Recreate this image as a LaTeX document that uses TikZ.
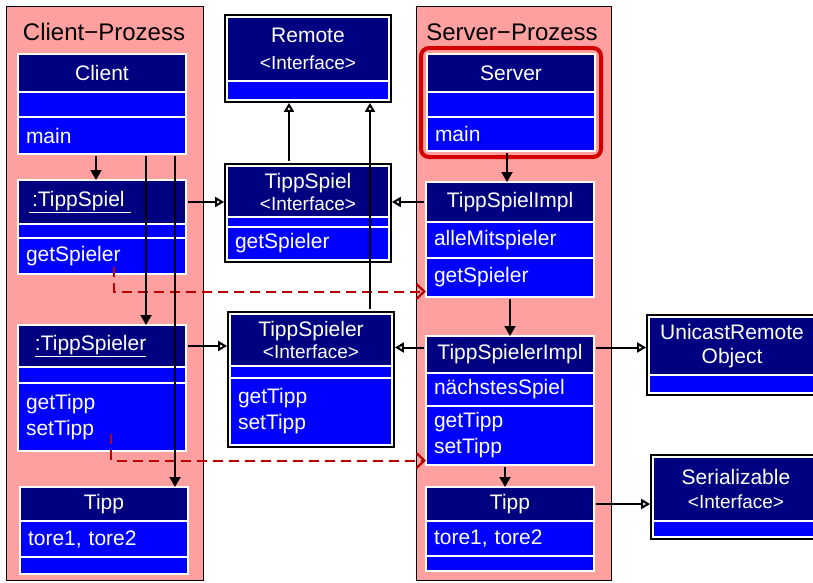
\documentclass[tikz,border=0pt]{standalone}
\usepackage{fontspec}
\setmainfont{Liberation Sans}
\usetikzlibrary{arrows.meta,positioning,fit,backgrounds}
\definecolor{HD}{RGB}{0,0,128}
\definecolor{BD}{RGB}{0,0,255}
\definecolor{PR}{RGB}{255,160,160}
\definecolor{SV}{RGB}{210,0,0}
\definecolor{RM}{RGB}{190,0,0}
\newcommand{\iface}[1]{#1\\[-4pt]{\fontsize{19}{21}\selectfont<Interface>}}
\tikzset{
  % one compartment of a class box
  cls/.style={
    draw=white, line width=1.2pt, outer sep=0pt,
    inner xsep=8pt, inner ysep=0pt, text=white,
    text width=152pt, font=\fontsize{21}{26}\selectfont
  },
  chead/.style={cls, fill=HD, align=center},
  cpart/.style={cls, fill=BD, align=left},
  % interfaces sit inside a black frame
  narrow/.style={text width=146pt},
  iframe/.style={draw=black, fill=HD, line width=2.6pt, inner sep=1.6pt},
  % process lanes
  lane/.style={
    draw=black, fill=PR, line width=1.3pt, anchor=north west,
    minimum width=197pt, minimum height=574pt
  },
  lanetitle/.style={font=\fontsize{24}{28}\selectfont, text=black},
  % connectors
  call/.style={-{Triangle[length=10pt,width=11pt]}, line width=2pt, shorten <=2pt},
  impl/.style={-{Triangle[open,length=9pt,width=10pt]}, line width=2pt, shorten <=2pt},
  remote/.style={
    -{Straight Barb[length=8pt,width=15pt,line width=2.2pt]}, draw=RM,
    line width=2pt, dash pattern=on 10pt off 6pt
  },
}

\begin{document}
\begin{tikzpicture}[x=1pt, y=-1pt]
\useasboundingbox (0,0) rectangle (813,582);

% ── Client side ──────────────────────────────────────────────────────────────
\node[chead, minimum height=38pt, anchor=north west] (cliH) at (18,54) {Client};
\node[cpart, minimum height=25pt, below=0pt of cliH] (cliB) {};
\node[cpart, minimum height=37pt, below=0pt of cliB] (cliM) {main};

\node[chead, align=left, minimum height=44pt, anchor=north west] (tsH) at (18,180)
  {\hspace*{3pt}\underline{\hspace{3pt}:TippSpiel\hspace{6pt}}};
\node[cpart, minimum height=14pt, below=0pt of tsH] (tsB) {};
\node[cpart, minimum height=36pt, below=0pt of tsB] (tsM) {getSpieler};

\node[chead, align=left, minimum height=42pt, anchor=north west] (tspH) at (18,325)
  {\hspace*{9pt}\underline{:TippSpieler}};
\node[cpart, minimum height=16pt, below=0pt of tspH] (tspB) {};
\node[cpart, minimum height=68pt, below=0pt of tspB] (tspM) {getTipp\\setTipp};

\node[chead, minimum height=34pt, anchor=north west] (tp1H) at (20,487) {Tipp};
\node[cpart, minimum height=36pt, below=0pt of tp1H] (tp1A) {tore1, tore2};
\node[cpart, minimum height=17pt, below=0pt of tp1A] (tp1B) {};

% ── Interfaces ──────────────────────────────────────────────────────────────
\node[chead, narrow, minimum height=64pt, anchor=north west] (remH) at (227,17)
  {Remote\\[1pt]{\fontsize{19}{21}\selectfont<Interface>}};
\node[cpart, narrow, minimum height=19pt, below=0pt of remH] (remB) {};

\node[chead, narrow, minimum height=51pt, anchor=north west] (tsiH) at (227,166)
  {\iface{TippSpiel}};
\node[cpart, narrow, minimum height=10pt, below=0pt of tsiH] (tsiB) {};
\node[cpart, narrow, minimum height=33pt, below=0pt of tsiB] (tsiM) {getSpieler};

\node[chead, narrow, minimum height=52pt, anchor=north west] (tspiH) at (230,314)
  {\iface{TippSpieler}};
\node[cpart, narrow, minimum height=12pt, below=0pt of tspiH] (tspiB) {};
\node[cpart, narrow, minimum height=67pt, below=0pt of tspiB] (tspiM) {getTipp\\setTipp};

\node[chead, text width=150pt, minimum height=58pt, anchor=north west] (uroH) at (649,317)
  {UnicastRemote\\[-2pt]Object};
\node[cpart, text width=150pt, minimum height=18pt, below=0pt of uroH] (uroB) {};

\node[chead, text width=150pt, minimum height=64pt, anchor=north west] (serH) at (653,457)
  {Serializable\\[-2pt]{\fontsize{19}{21}\selectfont<Interface>}};
\node[cpart, text width=150pt, minimum height=16pt, below=0pt of serH] (serB) {};

% ── Server side ─────────────────────────────────────────────────────────────
\node[chead, minimum height=38pt, anchor=north west] (srvH) at (427,54) {Server};
\node[cpart, minimum height=25pt, below=0pt of srvH] (srvB) {};
\node[cpart, minimum height=34pt, below=0pt of srvB] (srvM) {main};

\node[chead, minimum height=40pt, anchor=north west] (timH) at (426,182) {TippSpielImpl};
\node[cpart, minimum height=36pt, below=0pt of timH] (timA) {alleMitspieler};
\node[cpart, minimum height=39pt, below=0pt of timA] (timM) {getSpieler};

\node[chead, minimum height=37pt, anchor=north west] (tsimH) at (426,336) {TippSpielerImpl};
\node[cpart, minimum height=33pt, below=0pt of tsimH] (tsimA) {nächstesSpiel};
\node[cpart, minimum height=59pt, below=0pt of tsimA] (tsimM) {getTipp\\setTipp};

\node[chead, minimum height=34pt, anchor=north west] (tp2H) at (426,487) {Tipp};
\node[cpart, minimum height=35pt, below=0pt of tp2H] (tp2A) {tore1, tore2};
\node[cpart, minimum height=15pt, below=0pt of tp2A] (tp2B) {};

% ── Lanes and frames (behind) ───────────────────────────────────────────────
\begin{pgfonlayer}{background}
  \node[lane] (cliP) at (6,6) {};
  \node[lane, minimum width=195pt] (srvP) at (416,6) {};
  \node[iframe, fit=(remH)(remB)] (remF) {};
  \node[iframe, fit=(tsiH)(tsiM)] (tsiF) {};
  \node[iframe, fit=(tspiH)(tspiM)] (tspiF) {};
  \node[iframe, fit=(uroH)(uroB)] (uroF) {};
  \node[iframe, fit=(serH)(serB)] (serF) {};
  \node[draw=SV, line width=4pt, rounded corners=8pt, inner sep=6pt,
    fit=(srvH)(srvM)] (srvF) {};
\end{pgfonlayer}

\node[lanetitle] (cliT) at (104,32) {Client−Prozess};
\node[lanetitle] (srvT) at (512,32) {Server−Prozess};

% ── Remote calls ────────────────────────────────────────────────────────────
\draw[remote] ([xshift=12pt,yshift=7pt]tsM.south) |- ([yshift=-14pt]timM.west);
\draw[remote] ([xshift=9pt,yshift=-17pt]tspM.center) |- ([yshift=-25pt]tsimM.west);

% ── Local calls ─────────────────────────────────────────────────────────────
\draw[call] ([xshift=-6pt]cliM.south) -- ([xshift=-6pt]cliM.south |- tsH.north);
\draw[call] ([xshift=44pt]cliM.south) -- ([xshift=44pt]cliM.south |- tspH.north);
\draw[call] ([xshift=73pt]cliM.south) -- ([xshift=73pt]cliM.south |- tp1H.north);
\draw[call] ([xshift=-4pt]srvM.south) -- ([xshift=-4pt]srvM.south |- timH.north);
\draw[call] (timM.south) -- (timM.south |- tsimH.north);
\draw[call] ([xshift=-5pt]tsimM.south) -- ([xshift=-5pt]tsimM.south |- tp2H.north);

% ── Realisations ────────────────────────────────────────────────────────────
\draw[impl] (tsH.east) -- (tsH.east -| tsiF.west);
\draw[impl] (timH.west) -- (timH.west -| tsiF.east);
\draw[impl] (tspH.east) -- (tspH.east -| tspiF.west);
\draw[impl] ([yshift=7pt]tsimH.west) -- ([yshift=7pt]tsimH.west -| tspiF.east);
\draw[impl] ([yshift=7pt]tsimH.east) -- ([yshift=7pt]tsimH.east -| uroF.west);
\draw[impl] (tp2H.east) -- (tp2H.east -| serF.west);
\draw[impl] ([xshift=-19pt]tsiF.north) -- ([xshift=-19pt]tsiF.north |- remF.south);
\draw[impl] ([xshift=59pt]tspiF.north) -- ([xshift=59pt]tspiF.north |- remF.south);

\end{tikzpicture}
\end{document}
